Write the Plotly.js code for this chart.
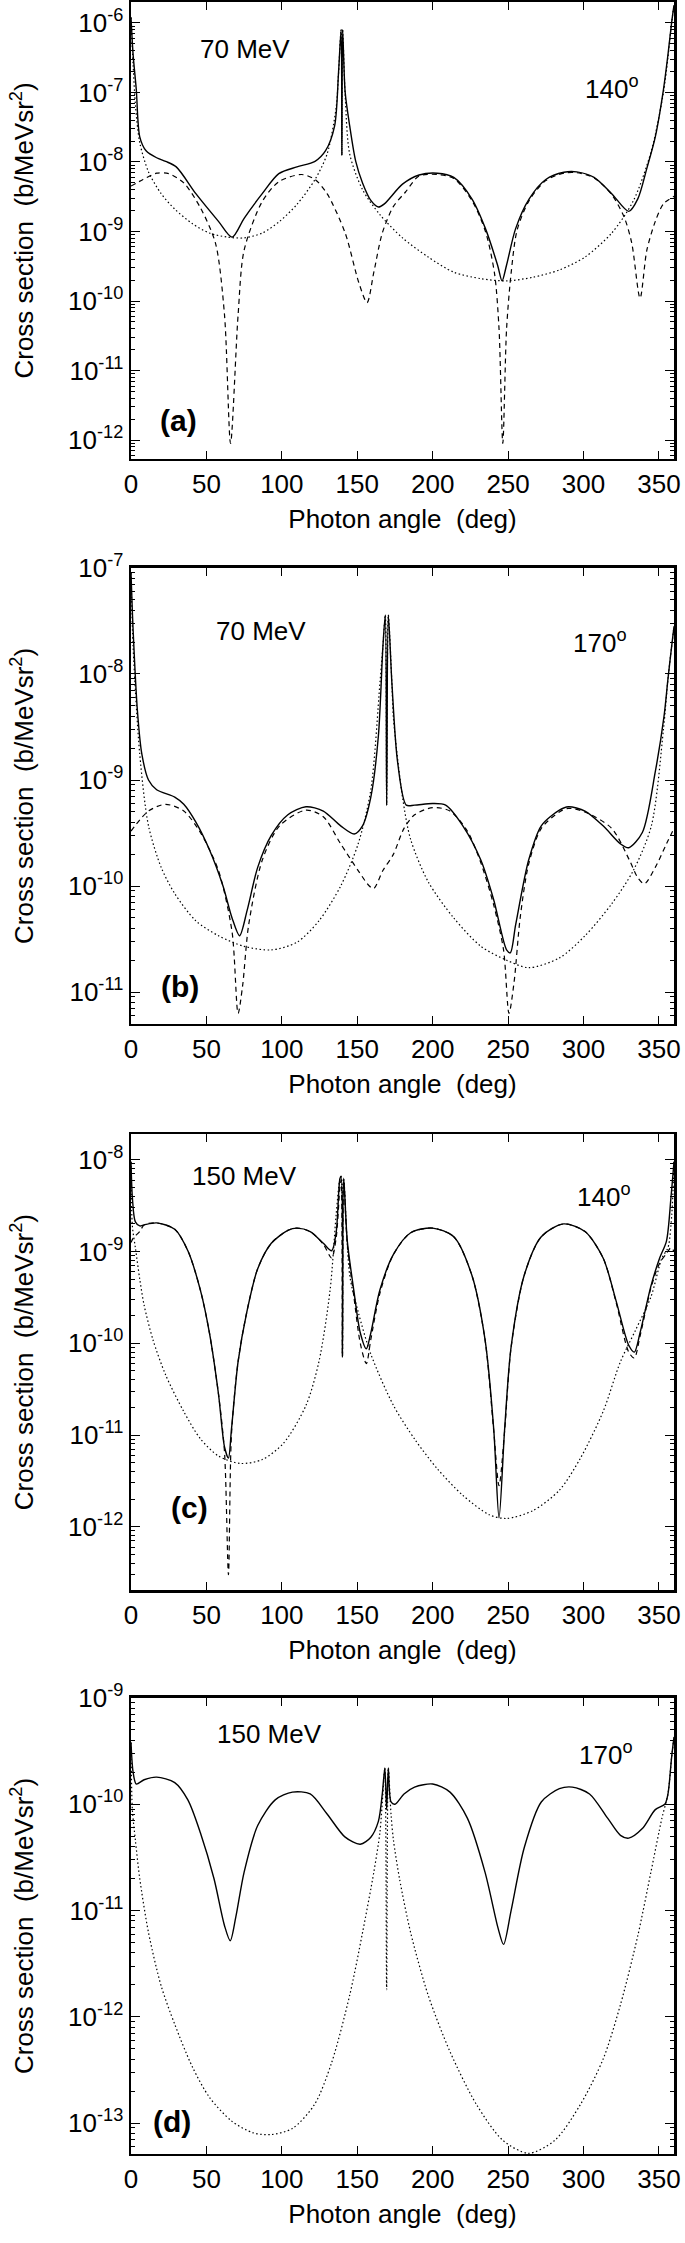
<!DOCTYPE html>
<html>
<head>
<meta charset="utf-8">
<script src="https://cdn.plot.ly/plotly-3.0.1.min.js"></script>
<style>
  body { margin: 0; background: #fff; }
  #chart { width: 685px; height: 2243px; }
</style>
</head>
<body>
<div id="chart"></div>
<script>
// (a) 70 MeV, 140 deg
const a_solid_x = [0, 1.4, 3.5, 5.8, 10, 17, 23, 30, 43, 58, 67, 75, 87, 98, 110, 122, 129, 135, 137.6, 139.3, 139.8, 140.3, 142, 145, 149, 153.5, 159, 164, 168, 180, 191, 203, 214, 226, 235, 243, 246, 249, 255, 264, 275, 287, 295.5, 307, 318.7, 330, 336, 342, 347.6, 353, 356, 358.4, 360];
const a_solid_y = [1.2e-6, 3.5e-7, 1.1e-7, 2.3e-8, 1.45e-8, 1.15e-8, 1.02e-8, 8.5e-9, 3.5e-9, 1.4e-9, 8.3e-10, 1.55e-9, 3.5e-9, 6.8e-9, 8.5e-9, 1.02e-8, 1.45e-8, 3.3e-8, 1.95e-7, 8e-7, 1.25e-8, 8e-7, 1e-7, 3.3e-8, 1.02e-8, 5e-9, 2.8e-9, 2.25e-9, 2.5e-9, 4.8e-9, 6.5e-9, 6.9e-9, 6e-9, 2.95e-9, 1.1e-9, 3.3e-10, 1.95e-10, 3.3e-10, 1.1e-9, 2.95e-9, 5.6e-9, 7.1e-9, 7.2e-9, 6e-9, 3.5e-9, 1.95e-9, 2.95e-9, 8.1e-9, 2.3e-8, 1.1e-7, 3.5e-7, 1e-6, 1.8e-6];
const a_dash_x = [0, 8, 17, 25, 35, 46, 56, 62, 66, 71, 75, 87, 98, 113, 122, 130, 142, 151, 156.5, 161, 166.6, 174, 182, 191, 203, 214, 226, 235, 241, 244, 246.5, 249, 252, 256, 264, 275, 287, 295.5, 307, 318.7, 327, 332, 337.5, 342, 347.6, 353, 360];
const a_dash_y = [4.5e-9, 5.6e-9, 6.9e-9, 6.8e-9, 5e-9, 2.2e-9, 6.8e-10, 6.3e-11, 9e-13, 6.3e-11, 5.4e-10, 2.7e-9, 5.2e-9, 6.6e-9, 5.6e-9, 3.5e-9, 9.5e-10, 1.85e-10, 9.5e-11, 2.6e-10, 9.5e-10, 2.3e-9, 3.7e-9, 6.3e-9, 6.6e-9, 5.8e-9, 2.8e-9, 1e-9, 2.5e-10, 4e-11, 9e-13, 4e-11, 2.5e-10, 1.05e-9, 2.8e-9, 5.4e-9, 6.9e-9, 7e-9, 5.9e-9, 3.4e-9, 1.6e-9, 6.8e-10, 1.1e-10, 5.4e-10, 1.4e-9, 2.5e-9, 3.2e-9];
const a_dot_x = [0, 1.4, 3, 5.8, 11.6, 20, 29, 40.6, 52, 64, 75, 87, 98.5, 110, 122, 130, 136, 137.6, 139.3, 139.8, 140.3, 142, 145, 153.5, 165, 180, 197, 214, 232, 249, 266.5, 284, 301, 318.7, 333, 345, 353, 356, 358.4, 360];
const a_dot_y = [1.2e-6, 2.5e-7, 6.3e-8, 1.9e-8, 7.2e-9, 3.5e-9, 2.1e-9, 1.3e-9, 9.5e-10, 8.3e-10, 8.1e-10, 9.5e-10, 1.4e-9, 2.45e-9, 5.6e-9, 1.3e-8, 6e-8, 1.9e-7, 8e-7, 1.25e-8, 8e-7, 9e-8, 1.3e-8, 4e-9, 1.75e-9, 8.1e-10, 4.3e-10, 2.6e-10, 2.1e-10, 1.95e-10, 2.2e-10, 2.8e-10, 4.3e-10, 9.5e-10, 2.75e-9, 1.45e-8, 1e-7, 3.2e-7, 1e-6, 1.8e-6];

// (b) 70 MeV, 170 deg
const b_solid_x = [0, 1.4, 4.3, 7.2, 11.6, 17, 29, 35, 43, 52, 61, 67, 72, 77, 84, 93, 104, 116, 127.5, 139, 148, 153.5, 159, 164, 167, 168.6, 169.5, 170.6, 173, 176.7, 182.5, 188, 200, 208.6, 220, 232, 240.5, 249, 251.5, 255, 263.6, 272, 284, 290, 301, 313, 324.5, 330, 339, 347.6, 353.4, 356, 358.4, 360];
const b_solid_y = [9e-8, 2.6e-8, 4.4e-9, 1.75e-9, 1e-9, 8.1e-10, 6.9e-10, 5.9e-10, 4e-10, 2.2e-10, 1e-10, 5e-11, 3.4e-11, 5.9e-11, 1.5e-10, 3e-10, 4.7e-10, 5.6e-10, 5.1e-10, 3.7e-10, 3.1e-10, 3.7e-10, 6.9e-10, 2.6e-9, 1.8e-8, 3.6e-8, 5.8e-10, 3.6e-8, 8.1e-9, 1.5e-9, 5.8e-10, 5.8e-10, 6e-10, 5.8e-10, 3.7e-10, 1.75e-10, 7.4e-11, 2.5e-11, 2.35e-11, 4.3e-11, 1.75e-10, 3.7e-10, 5.2e-10, 5.6e-10, 5.1e-10, 3.7e-10, 2.5e-10, 2.3e-10, 3.2e-10, 1.2e-9, 4e-9, 9e-9, 1.8e-8, 2.8e-8];
const b_dash_x = [0, 11.6, 23, 35, 46, 58, 67, 71, 74, 78, 87, 98.5, 116, 127.5, 139, 150.6, 158, 161, 167, 174, 181, 188, 200, 211.5, 223, 232, 240.5, 247, 250.6, 254, 258, 263.6, 272, 284, 290, 301, 318.7, 330.5, 336, 340.4, 347.6, 355, 360];
const b_dash_y = [3.3e-10, 5.1e-10, 5.9e-10, 5.1e-10, 3.2e-10, 1.4e-10, 3.7e-11, 6.3e-12, 1.15e-11, 4.3e-11, 1.75e-10, 3.7e-10, 5.2e-10, 4.5e-10, 2.5e-10, 1.4e-10, 1e-10, 9.5e-11, 1.4e-10, 2e-10, 3.5e-10, 4.7e-10, 5.5e-10, 5.1e-10, 3.3e-10, 1.65e-10, 6.6e-11, 2.5e-11, 6.3e-12, 1.25e-11, 5e-11, 1.6e-10, 3.5e-10, 5e-10, 5.4e-10, 5e-10, 3.5e-10, 1.75e-10, 1.2e-10, 1.05e-10, 1.5e-10, 2.5e-10, 3.5e-10];
const b_dot_x = [0, 1.4, 5.8, 11.6, 20, 29, 43, 58, 75, 93, 110, 124.6, 139, 150.6, 159, 165, 167, 168.6, 169.5, 170.6, 173, 174, 180, 185.4, 197, 214, 232, 249, 263.6, 284, 301, 318.7, 333, 345, 353, 356, 358.4, 360];
const b_dot_y = [9e-8, 1.8e-8, 1.75e-9, 3.7e-10, 1.5e-10, 8.5e-11, 4.7e-11, 3.4e-11, 2.7e-11, 2.5e-11, 2.95e-11, 4.7e-11, 1e-10, 2.5e-10, 8.1e-10, 8.1e-9, 1.8e-8, 3.6e-8, 5.8e-10, 3.6e-8, 8e-9, 3.8e-9, 6.9e-10, 2.75e-10, 1.1e-10, 5e-11, 2.7e-11, 2e-11, 1.7e-11, 2.1e-11, 3.4e-11, 6.8e-11, 1.4e-10, 3.7e-10, 3e-9, 9e-9, 1.8e-8, 2.8e-8];

// (c) 150 MeV, 140 deg
const c_solid_x = [0, 0.9, 2.9, 5.8, 8.7, 17, 29, 37.7, 46, 52, 58, 62, 64.6, 66.6, 71, 76.8, 84, 93, 104, 110, 118.8, 127.5, 133, 136, 138.5, 139.3, 140.2, 141, 143.4, 147.7, 152, 156, 159, 165, 174, 185.4, 200, 214, 226, 234.7, 240.5, 244, 247.7, 252, 260.7, 272, 286.8, 301, 313, 321.6, 330, 333.7, 337.5, 344.7, 350.5, 355, 358, 360];
const c_solid_y = [9.5e-9, 3.9e-9, 2.1e-9, 1.9e-9, 1.95e-9, 2.05e-9, 1.75e-9, 1.02e-9, 3.8e-10, 1.3e-10, 2.8e-11, 7.4e-12, 5.6e-12, 1.15e-11, 6.3e-11, 2.2e-10, 6.5e-10, 1.23e-9, 1.7e-9, 1.8e-9, 1.65e-9, 1.23e-9, 1.02e-9, 1.6e-9, 6.2e-9, 6.6e-9, 7.2e-11, 6.3e-9, 1.3e-9, 3.8e-10, 1.3e-10, 8.7e-11, 1.3e-10, 3.8e-10, 9.3e-10, 1.6e-9, 1.8e-9, 1.45e-9, 5.5e-10, 1.1e-10, 1.15e-11, 1.25e-12, 1.15e-11, 9.1e-11, 5.5e-10, 1.45e-9, 2e-9, 1.65e-9, 8.5e-10, 2.9e-10, 9.5e-11, 8e-11, 1.3e-10, 4.2e-10, 8.5e-10, 1.3e-9, 3.9e-9, 9.5e-9];
const c_dash_x = [0, 1.5, 5.8, 8.7, 17, 29, 37.7, 46, 52, 58, 62, 64.6, 66.6, 71, 76.8, 84, 93, 104, 110, 118.8, 127.5, 133, 136, 138.5, 139.3, 140.2, 141, 143.4, 147.7, 152, 156, 159, 165, 174, 185.4, 200, 214, 226, 234.7, 240.5, 244, 247.7, 252, 260.7, 272, 286.8, 301, 313, 321.6, 330, 333.7, 337.5, 344.7, 350.5, 355, 358, 360];
const c_dash_y = [1.25e-9, 1.4e-9, 1.65e-9, 1.95e-9, 2.05e-9, 1.75e-9, 1.02e-9, 3.8e-10, 1.3e-10, 2.8e-11, 6.5e-12, 3e-13, 1e-11, 6.3e-11, 2.2e-10, 6.5e-10, 1.23e-9, 1.7e-9, 1.8e-9, 1.65e-9, 1.2e-9, 8.5e-10, 1.4e-9, 5e-9, 6e-9, 7e-11, 6e-9, 1.2e-9, 3.3e-10, 1e-10, 6e-11, 1.1e-10, 3.5e-10, 9.3e-10, 1.6e-9, 1.8e-9, 1.45e-9, 5.5e-10, 1.1e-10, 1.1e-11, 2.8e-12, 1.1e-11, 9e-11, 5.5e-10, 1.45e-9, 2e-9, 1.65e-9, 8.5e-10, 2.8e-10, 8e-11, 6.9e-11, 1.2e-10, 4e-10, 7.5e-10, 9.5e-10, 1.1e-9, 1e-9];
const c_dot_x = [0, 0.9, 2.9, 5.8, 8.7, 14.5, 23, 35, 46, 58, 72.4, 87, 101, 116, 124.6, 132, 136, 138.5, 139.3, 140.2, 141, 145, 150.6, 159, 174, 188.3, 203, 220, 237.6, 249, 266.5, 284, 298, 313, 324.5, 334.6, 344.7, 352, 356, 358.5, 360];
const c_dot_y = [9.5e-9, 1.9e-9, 1.1e-9, 5e-10, 2.6e-10, 1.1e-10, 4.5e-11, 1.8e-11, 9.1e-12, 5.9e-12, 4.9e-12, 5.4e-12, 8.1e-12, 2.1e-11, 6.3e-11, 3.8e-10, 2.5e-9, 6.2e-9, 6.6e-9, 7.2e-11, 6.3e-9, 5.5e-10, 2.2e-10, 7.6e-11, 2.1e-11, 8.9e-12, 4.3e-12, 2.2e-12, 1.35e-12, 1.23e-12, 1.5e-12, 2.5e-12, 5.6e-12, 1.8e-11, 6.3e-11, 1.4e-10, 3.2e-10, 8.5e-10, 1.1e-9, 2.5e-9, 9.5e-9];

// (d) 150 MeV, 170 deg
const d_solid_x = [0, 1.4, 3.5, 8.7, 17, 29, 37.7, 46, 55, 62, 65.8, 69.5, 75, 84, 95.6, 107, 118.8, 130, 142, 152, 159, 164, 166.6, 168.3, 169.5, 170.6, 172.4, 175, 181, 188, 200, 211.5, 223, 234.7, 243.4, 247, 252, 260.7, 272, 284, 292.6, 304, 316, 324.5, 330, 339, 347.6, 353.9, 356, 358.4, 360];
const d_solid_y = [3.8e-10, 2e-10, 1.55e-10, 1.7e-10, 1.8e-10, 1.6e-10, 1.1e-10, 5.4e-11, 2e-11, 7.2e-12, 5.2e-12, 8.7e-12, 2.3e-11, 6.3e-11, 1.1e-10, 1.3e-10, 1.25e-10, 8.1e-11, 4.9e-11, 4.2e-11, 4.9e-11, 6.9e-11, 1.25e-10, 2.2e-10, 8.9e-11, 2.2e-10, 1.05e-10, 1e-10, 1.25e-10, 1.45e-10, 1.55e-10, 1.3e-10, 7.4e-11, 2.3e-11, 6.8e-12, 4.8e-12, 1e-11, 3.9e-11, 1.05e-10, 1.4e-10, 1.45e-10, 1.25e-10, 7.4e-11, 5.1e-11, 4.8e-11, 5.9e-11, 8.9e-11, 1e-10, 1.25e-10, 2.75e-10, 4.3e-10];
const d_dot_x = [0, 0.9, 2.9, 5.8, 11.6, 20, 29, 40.6, 52, 66.6, 81, 92.7, 107, 121.7, 133, 145, 153.5, 161, 165, 167, 168.3, 169.5, 170.6, 172.4, 174, 178, 185.4, 197, 211.5, 229, 246.5, 263.6, 281, 298, 313, 324.5, 336, 344.7, 352, 356, 358.4, 360];
const d_dot_y = [3.8e-10, 8.9e-11, 4.6e-11, 2e-11, 6.2e-12, 1.95e-12, 8.5e-13, 3.4e-13, 1.75e-13, 1.05e-13, 8.1e-14, 7.8e-14, 8.9e-14, 1.5e-13, 3.7e-13, 1.6e-12, 6.2e-12, 2.3e-11, 5.4e-11, 1.25e-10, 2.2e-10, 1.8e-12, 2.2e-10, 8e-11, 4.6e-11, 2e-11, 6.2e-12, 1.6e-12, 4.7e-13, 1.5e-13, 6.9e-14, 5.2e-14, 6.9e-14, 1.5e-13, 4e-13, 1.3e-12, 5.8e-12, 2.3e-11, 7.4e-11, 1.25e-10, 2.75e-10, 4.3e-10];

const x_ticks = [0, 50, 100, 150, 200, 250, 300, 350];
const font_family = '"Liberation Sans", Arial, sans-serif';

const line_style = {
    solid: { color: 'black', width: 1.4, dash: 'solid' },
    dash: { color: 'black', width: 1.2, dash: '5px,4px' },
    dot: { color: 'black', width: 1.2, dash: '1.5px,2.5px' }
};

const make_trace = (x, y, style, n) => ({
    x: x, y: y, type: 'scatter', mode: 'lines',
    line: Object.assign({ shape: 'spline', smoothing: 0.8 }, line_style[style]),
    xaxis: 'x' + n, yaxis: 'y' + n,
    showlegend: false, hoverinfo: 'skip'
});

const decade_ticks = (lo, hi) => {
    const vals = [], text = [];
    for (let e = lo; e <= hi; e++) {
        vals.push(Math.pow(10, e));
        text.push('10<sup>' + e + '</sup>');
    }
    return { vals, text };
};

const make_xaxis = (n) => ({
    anchor: 'y' + n, domain: [0, 1], range: [0, 360],
    tickmode: 'array', tickvals: x_ticks,
    ticks: 'inside', ticklen: 8, tickwidth: 1, tickcolor: 'black',
    showline: true, linewidth: 2.5, linecolor: 'black', mirror: 'allticks',
    showgrid: false, zeroline: false,
    tickfont: { size: 26 },
    title: { text: 'Photon angle\u00a0\u00a0(deg)', font: { size: 26 }, standoff: 12 }
});

const make_yaxis = (n, domain, range, lo, hi) => {
    const t = decade_ticks(lo, hi);
    return {
        anchor: 'x' + n, domain: domain, type: 'log', range: range,
        tickmode: 'array', tickvals: t.vals, ticktext: t.text,
        ticks: 'inside', ticklen: 9, tickwidth: 1, tickcolor: 'black',
        minor: { ticks: 'inside', ticklen: 4, tickwidth: 1, tickcolor: 'black', dtick: 'D1', showgrid: false },
        showline: true, linewidth: 2.5, linecolor: 'black', mirror: 'allticks',
        showgrid: false, zeroline: false,
        tickfont: { size: 26 },
        title: { text: 'Cross section\u00a0\u00a0(b/MeVsr<sup>2</sup>)', font: { size: 26 }, standoff: 27 }
    };
};

const label = (n, x, y, text, size, bold) => ({
    xref: 'x' + n + ' domain', yref: 'y' + n + ' domain', x: x, y: y,
    text: bold ? '<b>' + text + '</b>' : text,
    showarrow: false, xanchor: 'center', yanchor: 'middle',
    font: { size: size, color: 'black', family: font_family }
});

const build_chart = () => {
    const chart = document.querySelector('#chart');
    const data = [
        make_trace(a_dot_x, a_dot_y, 'dot', ''),
        make_trace(a_dash_x, a_dash_y, 'dash', ''),
        make_trace(a_solid_x, a_solid_y, 'solid', ''),
        make_trace(b_dot_x, b_dot_y, 'dot', 2),
        make_trace(b_dash_x, b_dash_y, 'dash', 2),
        make_trace(b_solid_x, b_solid_y, 'solid', 2),
        make_trace(c_dot_x, c_dot_y, 'dot', 3),
        make_trace(c_dash_x, c_dash_y, 'dash', 3),
        make_trace(c_solid_x, c_solid_y, 'solid', 3),
        make_trace(d_dot_x, d_dot_y, 'dot', 4),
        make_trace(d_solid_x, d_solid_y, 'solid', 4)
    ];

    const layout = {
        width: 685, height: 2243,
        margin: { l: 131, r: 11, t: 0, b: 0 },
        paper_bgcolor: 'white', plot_bgcolor: 'white',
        font: { family: font_family, color: 'black', size: 26 },
        xaxis: make_xaxis(''), yaxis: make_yaxis('', [0.7954, 0.9991], [-12.27, -5.70], -12, -6),
        xaxis2: make_xaxis(2), yaxis2: make_yaxis(2, [0.5435, 0.7468], [-11.30, -7.0], -11, -7),
        xaxis3: make_xaxis(3), yaxis3: make_yaxis(3, [0.2911, 0.4944], [-12.69, -7.72], -12, -8),
        xaxis4: make_xaxis(4), yaxis4: make_yaxis(4, [0.0397, 0.2430], [-13.29, -9.0], -13, -9),
        annotations: [
            label('', 0.21, 0.897, '70 MeV', 26),
            label('', 0.886, 0.814, '140<sup>o</sup>', 26),
            label('', 0.087, 0.085, '(a)', 30, true),
            label(2, 0.239, 0.862, '70 MeV', 26),
            label(2, 0.864, 0.838, '170<sup>o</sup>', 26),
            label(2, 0.090, 0.083, '(b)', 30, true),
            label(3, 0.209, 0.908, '150 MeV', 26),
            label(3, 0.871, 0.866, '140<sup>o</sup>', 26),
            label(3, 0.107, 0.180, '(c)', 30, true),
            label(4, 0.255, 0.921, '150 MeV', 26),
            label(4, 0.875, 0.879, '170<sup>o</sup>', 26),
            label(4, 0.075, 0.072, '(d)', 30, true)
        ]
    };

    Plotly.newPlot(chart, data, layout, { staticPlot: true });
};

document.addEventListener('DOMContentLoaded', build_chart);
</script>
</body>
</html>
